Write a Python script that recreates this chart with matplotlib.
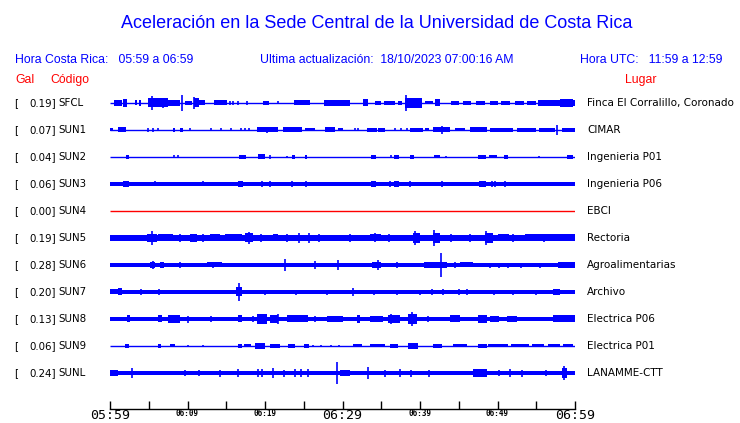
import matplotlib
matplotlib.use("Agg")
import matplotlib.pyplot as plt

# ---------------- data ----------------
stations = ["SFCL", "SUN1", "SUN2", "SUN3", "SUN4", "SUN5", "SUN6", "SUN7", "SUN8", "SUN9", "SUNL"]
gal_max = [0.19, 0.07, 0.04, 0.06, 0.00, 0.19, 0.28, 0.20, 0.13, 0.06, 0.24]
places = ["Finca El Corralillo, Coronado", "CIMAR", "Ingenieria P01", "Ingenieria P06", "EBCI",
          "Rectoria", "Agroalimentarias", "Archivo", "Electrica P06", "Electrica P01", "LANAMME-CTT"]
trace_colors = ["blue"] * 4 + ["red"] + ["blue"] * 6

# background noise half-amplitude of each trace (trace units)
noise_half = [0, 0, 0, 2.0, 0, 2.6, 1.8, 2.0, 2.3, 0, 2.1]

# bursts: (start minute, end minute, half amplitude)
sfcl_bursts = [(0.5, 1.6, 3), (1.7, 2.2, 4), (3.2, 3.5, 2.5), (3.7, 4.0, 3), (4.9, 7.5, 4.5),
               (7.5, 9.0, 3), (9.7, 10.6, 2), (10.8, 11.5, 4.5), (11.5, 12.3, 2.5),
               (13.4, 15.1, 2.5), (19.8, 20.5, 2), (23.7, 25.8, 2.5), (27.6, 31.0, 3),
               (32.6, 33.3, 3.5), (34.2, 35.0, 2), (35.4, 36.8, 2), (37.2, 37.7, 2),
               (38.1, 40.3, 5), (40.6, 41.7, 1.5), (41.9, 42.6, 3.5), (44.0, 45.0, 2),
               (45.6, 46.6, 2), (47.2, 48.4, 2), (49.0, 50.0, 2), (50.5, 51.6, 2),
               (52.3, 53.4, 2), (53.8, 55.0, 2), (55.2, 60.0, 3), (58.0, 59.8, 4)]
sun1_bursts = [(0.0, 0.4, 1.5), (1.0, 2.1, 2.5), (8.1, 8.4, 2), (9.0, 9.4, 2),
               (19.0, 21.7, 2.5), (22.3, 24.8, 2.5), (25.2, 26.5, 1.5), (27.7, 29.0, 2.5),
               (29.4, 30.0, 1.5), (33.2, 34.5, 2), (34.6, 35.5, 2), (38.7, 40.4, 2),
               (40.6, 41.2, 1.5), (41.7, 43.9, 2.5), (44.5, 45.8, 1.5), (46.5, 48.6, 2.5),
               (49.0, 52.0, 2), (52.5, 55.0, 2), (55.3, 57.4, 2), (58.3, 60.0, 2)]
sun2_bursts = [(2.1, 2.5, 2), (16.6, 17.5, 2), (19.1, 20.0, 2.5), (23.5, 23.9, 2),
               (25.2, 25.4, 2), (33.7, 34.3, 2), (36.6, 37.3, 2), (38.7, 39.2, 2),
               (41.8, 42.6, 1.5), (47.5, 48.5, 2), (48.9, 49.9, 1.5), (50.8, 51.4, 2),
               (59.0, 59.7, 2)]
sun3_bursts = [(1.7, 2.5, 3), (16.5, 17.2, 3), (33.7, 34.3, 3), (36.6, 37.3, 3),
               (47.6, 48.5, 3)]
sun4_bursts = []
sun5_bursts = [(0.0, 2.6, 3), (4.8, 6.1, 4), (6.2, 8.1, 3.5), (10.3, 11.2, 4),
               (12.9, 14.2, 3.5), (14.8, 17.0, 3.5), (17.4, 18.5, 4.5), (21.0, 21.7, 3.5),
               (28.0, 30.0, 3.3), (33.5, 35.0, 3.5), (39.1, 40.0, 5), (41.7, 42.6, 5),
               (44.0, 45.0, 3.3), (48.4, 49.4, 5), (50.0, 51.5, 3.5), (53.5, 60.0, 3.5)]
sun6_bursts = [(5.2, 5.8, 3), (6.5, 7.0, 3), (12.5, 14.5, 2.5), (33.8, 35.0, 3),
               (40.5, 43.5, 3), (45.2, 46.8, 2.5), (57.8, 60.0, 3)]
sun7_bursts = [(0.0, 1.5, 2.5), (1.0, 1.5, 3.5), (16.2, 17.0, 4.5), (57.2, 58.0, 3)]
sun8_bursts = [(2.2, 2.6, 3.5), (6.2, 6.7, 3.5), (7.5, 9.0, 4), (16.5, 17.0, 3.5),
               (19.0, 20.3, 5), (20.6, 21.7, 4), (22.8, 25.5, 3.5), (28.0, 30.0, 3),
               (31.9, 32.3, 4), (33.5, 35.2, 3), (35.9, 37.4, 4), (38.5, 39.6, 5),
               (43.9, 45.2, 3.5), (47.5, 48.6, 4), (49.0, 50.2, 3), (51.2, 52.5, 3),
               (57.2, 60.0, 3.5)]
sun9_bursts = [(1.9, 2.5, 2), (6.2, 6.6, 2), (7.7, 8.4, 1.5), (16.5, 17.0, 2),
               (17.3, 18.2, 1.5), (18.7, 20.0, 2.5), (20.6, 21.9, 2), (23.0, 23.9, 2),
               (25.0, 25.7, 2), (31.4, 32.5, 1.5), (33.5, 35.5, 1.5), (36.1, 37.2, 2),
               (38.5, 39.7, 2.5), (41.7, 42.8, 2), (44.3, 46.0, 1.5), (47.5, 48.7, 2),
               (48.8, 51.4, 1.5), (51.8, 54.0, 1.5), (54.5, 56.0, 1.5), (56.5, 58.0, 1.5),
               (58.4, 59.7, 1.5)]
sunl_bursts = [(0.0, 1.0, 3), (29.7, 31.0, 3), (46.8, 48.6, 4), (58.3, 59.0, 5)]

# isolated spikes: (minute, half amplitude)
sfcl_spikes = [(5.4, 7), (9.3, 8), (10.9, 6), (6.8, 5), (38.2, 8), (15.5, 2), (15.9, 2),
               (16.5, 2), (17.7, 2), (21.7, 1.5)]
sun1_spikes = [(4.9, 2), (5.5, 2), (6.2, 1.5), (10.3, 1.5), (13.0, 1.5), (14.3, 1.5),
               (15.6, 1.5), (16.9, 1.5), (17.4, 1.5), (17.9, 1.5), (20.3, 3), (42.8, 4),
               (57.7, 5), (31.6, 1.5), (32.0, 1.5), (36.8, 1.5), (37.5, 1.5), (38.3, 1.5)]
sun2_spikes = [(8.3, 1.5), (8.8, 1.5), (20.6, 2), (22.9, 1.2), (36.3, 1.5), (43.3, 1.2),
               (55.4, 1.2)]
sun3_spikes = [(19.6, 3), (20.6, 3), (23.5, 3), (25.3, 3), (38.7, 3), (42.8, 3), (49.3, 3),
               (49.7, 3), (51.0, 3), (36.1, 3), (5.8, 2.5), (12.0, 2.5)]
sun4_spikes = []
sun5_spikes = [(5.4, 7), (17.9, 6), (22.8, 4), (24.4, 5), (25.7, 5), (34.2, 4.5),
               (39.3, 7), (41.8, 8), (48.5, 7), (9.0, 4), (12.0, 4), (19.5, 4), (27.0, 4),
               (31.0, 4), (36.0, 4), (44.0, 4), (46.5, 4), (52.0, 4), (56.0, 4)]
sun6_spikes = [(5.5, 4), (9.0, 3), (13.3, 2.5), (22.6, 6), (26.5, 4), (29.4, 5),
               (34.6, 5), (37.0, 3), (42.7, 12), (44.5, 3), (49.0, 2.5), (50.2, 2.5),
               (51.4, 2.5), (53.0, 2.5), (55.5, 2.5), (58.0, 3), (59.2, 3)]
sun7_spikes = [(4.0, 3), (6.3, 3), (16.6, 9), (20.0, 2.5), (24.0, 2.5), (28.0, 2.5),
               (31.4, 4), (34.0, 2.5), (37.0, 2.5), (40.0, 2.5), (43.0, 3), (46.0, 3),
               (49.5, 2.5), (52.0, 2.5), (55.0, 2.5), (41.5, 3), (45.0, 3)]
sun8_spikes = [(10.0, 3.5), (13.0, 3), (18.5, 3), (21.7, 5), (36.2, 5), (39.0, 7),
               (26.5, 3), (41.0, 3)]
sun9_spikes = [(10.0, 1.2), (12.0, 1.2), (26.2, 1.2), (27.2, 1.2), (28.5, 1.2), (29.5, 1.2)]
sunl_spikes = [(2.9, 5), (9.7, 3), (11.5, 3), (14.2, 3.5), (16.5, 4.5), (19.1, 4.5),
               (19.6, 4.5), (21.0, 5), (22.5, 3.5), (23.9, 4), (24.7, 4), (25.5, 4),
               (29.3, 11), (33.3, 6), (35.5, 3.5), (37.4, 4.5), (38.8, 3.5), (41.1, 3.5),
               (48.2, 4), (50.2, 3), (51.6, 4), (53.2, 3.5), (56.2, 3), (58.6, 7)]

bursts = [sfcl_bursts, sun1_bursts, sun2_bursts, sun3_bursts, sun4_bursts, sun5_bursts,
          sun6_bursts, sun7_bursts, sun8_bursts, sun9_bursts, sunl_bursts]
spikes = [sfcl_spikes, sun1_spikes, sun2_spikes, sun3_spikes, sun4_spikes, sun5_spikes,
          sun6_spikes, sun7_spikes, sun8_spikes, sun9_spikes, sunl_spikes]

tick_minutes = [0, 5, 10, 15, 20, 25, 30, 35, 40, 45, 50, 55, 60]
tick_labels = ["05:59", "", "06:09", "", "06:19", "", "06:29", "", "06:39", "", "06:49", "", "06:59"]
big_labels = ["05:59", "06:29", "06:59"]

# ---------------- drawing ----------------
W, H = 740, 423
fig = plt.figure(figsize=(W / 100, H / 100), dpi=100)
fig.patch.set_facecolor("white")

def fx(px):
    return px / W

def fy(py):
    return 1 - py / H

ROW = 27.0  # pixels per trace row
ax = fig.add_axes([fx(110), fy(409), fx(575) - fx(110), fy(90) - fy(409)])
ax.set_xlim(0, 60)
ax.set_ylim((409 - 103) / ROW, (90 - 103) / ROW)
s = 1.0 / ROW  # amplitude scale to row units

for i, st in enumerate(stations):
    c = trace_colors[i]
    y = i
    ax.hlines(y, 0, 60, color=c, lw=1.0)
    if noise_half[i] > 0:
        ax.fill_between([0, 60], y - noise_half[i] * s, y + noise_half[i] * s,
                        color=c, lw=0)
    for (t0, t1, h) in bursts[i]:
        ax.fill_between([t0, t1], y - h * s, y + h * s, color=c, lw=0)
    for (t, h) in spikes[i]:
        ax.vlines(t, y - h * s, y + h * s, color=c, lw=1.2)

for side in ["left", "right", "top"]:
    ax.spines[side].set_visible(False)
ax.spines["bottom"].set_color("black")
ax.spines["bottom"].set_linewidth(1.0)
ax.set_yticks([])
ax.set_xticks(tick_minutes)
ax.set_xticklabels(tick_labels)
ax.tick_params(axis="x", direction="in", length=5.5, width=1.0, color="black", pad=0.3)
for lab in ax.get_xticklabels():
    lab.set_family("DejaVu Sans Mono")
    if lab.get_text() in big_labels:
        lab.set_fontsize(9.5)
    else:
        lab.set_fontsize(5.5)
        lab.set_fontweight("bold")

# ---------------- texts ----------------
title_font = "Liberation Sans"
hdr = 8.8
fig.text(fx(377), fy(23), "Aceleración en la Sede Central de la Universidad de Costa Rica",
         ha="center", va="center", color="blue", fontsize=13.0, family=title_font)
fig.text(fx(15), fy(60), "Hora Costa Rica:   05:59 a 06:59", ha="left", va="center",
         color="blue", fontsize=hdr, family=title_font)
fig.text(fx(260), fy(60), "Ultima actualización:  18/10/2023 07:00:16 AM", ha="left",
         va="center", color="blue", fontsize=hdr, family=title_font)
fig.text(fx(723), fy(60), "Hora UTC:   11:59 a 12:59", ha="right", va="center",
         color="blue", fontsize=hdr, family=title_font)
fig.text(fx(15), fy(80), "Gal", ha="left", va="center", color="red", fontsize=hdr,
         family=title_font)
fig.text(fx(50), fy(80), "Código", ha="left", va="center", color="red", fontsize=hdr,
         family=title_font)
fig.text(fx(656), fy(80), "Lugar", ha="right", va="center", color="red", fontsize=hdr,
         family=title_font)

for i, st in enumerate(stations):
    yp = 103 + ROW * i
    fig.text(fx(14), fy(yp), "[", ha="left", va="center", fontsize=7.4,
             family="DejaVu Sans", color="black")
    fig.text(fx(56), fy(yp), f"{gal_max[i]:.2f}]", ha="right", va="center", fontsize=7.4,
             family="DejaVu Sans", color="black")
    fig.text(fx(58), fy(yp), st, ha="left", va="center", fontsize=7.4,
             family="DejaVu Sans", color="black")
    fig.text(fx(587), fy(yp), places[i], ha="left", va="center", fontsize=7.5,
             family="DejaVu Sans", color="black")

fig.savefig("out.png", dpi=100, facecolor="white")
